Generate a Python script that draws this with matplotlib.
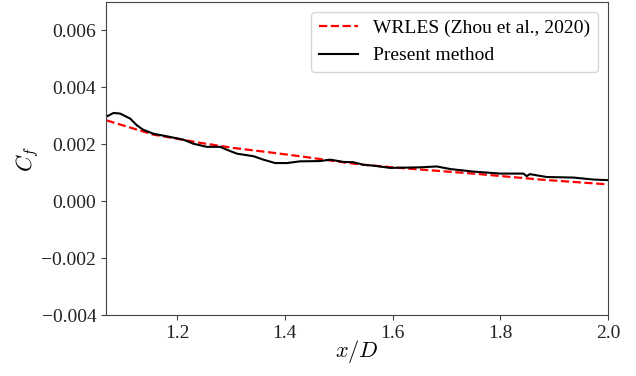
import matplotlib
matplotlib.use("Agg")
import matplotlib.pyplot as plt

# WRLES (Zhou et al., 2020)
x_ref = [1.069, 1.156, 1.243, 1.305, 1.366, 1.428, 1.503, 1.540, 1.626, 1.750, 1.874, 2.0]
cf_ref = [0.00284, 0.00234, 0.00205, 0.00187, 0.00173, 0.00158, 0.00138, 0.00129,
          0.00115, 0.00097, 0.00076, 0.00059]

# Present method
x_pm = [1.0695, 1.082, 1.094, 1.113, 1.125, 1.137, 1.156, 1.181, 1.212, 1.230, 1.255,
        1.280, 1.292, 1.311, 1.342, 1.360, 1.382, 1.404, 1.428, 1.465, 1.484, 1.509,
        1.527, 1.546, 1.564, 1.595, 1.626, 1.651, 1.682, 1.707, 1.750, 1.800, 1.843,
        1.849, 1.855, 1.886, 1.936, 1.973, 2.0]
cf_pm = [0.00298, 0.00310, 0.00308, 0.00290, 0.00267, 0.00251, 0.00237, 0.00228,
         0.00216, 0.00202, 0.00191, 0.00191, 0.00181, 0.00167, 0.00158, 0.00146,
         0.00134, 0.00134, 0.00140, 0.00141, 0.00146, 0.00138, 0.00137, 0.00128,
         0.00125, 0.00117, 0.00118, 0.00119, 0.00122, 0.00113, 0.00104, 0.00097,
         0.00097, 0.00088, 0.00095, 0.00085, 0.00083, 0.00076, 0.00074]

xticks = [1.2, 1.4, 1.6, 1.8, 2.0]
yticks = [-0.004, -0.002, 0.000, 0.002, 0.004, 0.006]

plt.rcParams['font.family'] = ['Liberation Serif', 'DejaVu Serif']
plt.rcParams['mathtext.fontset'] = 'cm'
plt.rcParams['font.size'] = 14

fig = plt.figure(figsize=(6.36, 3.76), dpi=100)
ax = fig.add_axes([0.1667, 0.1622, 0.7893, 0.8325])

ax.plot(x_ref, cf_ref, 'r--', lw=1.6, label='WRLES (Zhou et al., 2020)')
ax.plot(x_pm, cf_pm, 'k-', lw=1.5, label='Present method')

ax.set_xlim(1.068, 2.0)
ax.set_ylim(-0.004, 0.007)
ax.set_xticks(xticks)
ax.set_xticklabels([f"{t:.1f}" for t in xticks])
ax.set_yticks(yticks)
ax.set_yticklabels([f"{t:.3f}".replace('-', '\u2212') for t in yticks])
ax.set_xlabel('$x/D$', fontsize=16, labelpad=-3)
ax.set_ylabel('$C_f$', fontsize=16, labelpad=0)

for s in ax.spines.values():
    s.set_color('#444444')
ax.tick_params(colors='#444444', labelcolor='#222222')

ax.legend(loc='upper right', fontsize=14)

fig.savefig('out.png', dpi=100)
